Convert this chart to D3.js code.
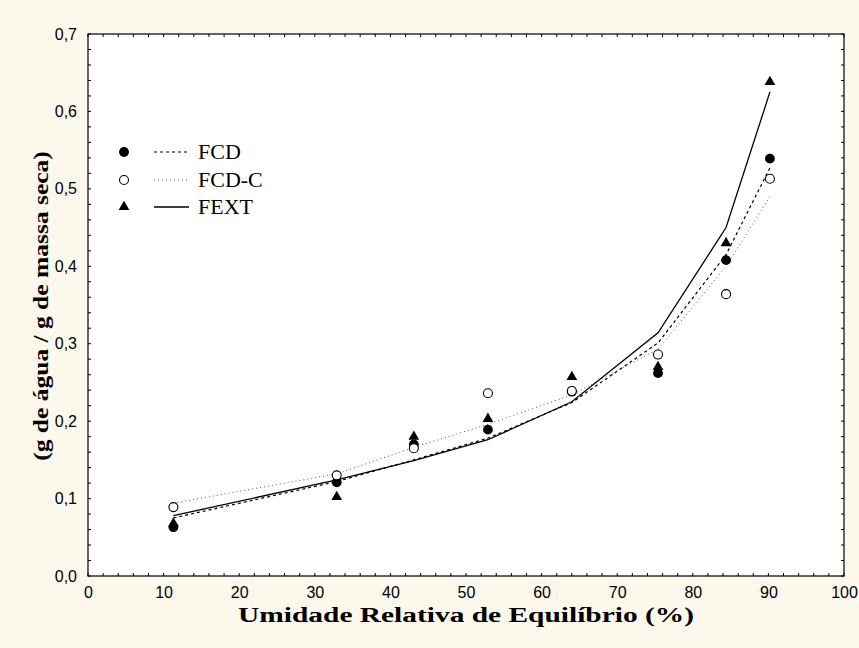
<!DOCTYPE html>
<html><head><meta charset="utf-8">
<script src="https://cdn.jsdelivr.net/npm/d3@7"></script>
<style>html,body{margin:0;padding:0;background:#FDF8EC;}</style>
</head><body>
<svg id="c" width="859" height="648"></svg>
<script>
const rh = [11.3, 32.9, 43.1, 52.9, 64.0, 75.4, 84.4, 90.2];
const fcdObs   = [0.063, 0.121, 0.170, 0.189, 0.238, 0.262, 0.408, 0.539];
const fcdcObs  = [0.089, 0.130, 0.165, 0.236, 0.239, 0.286, 0.364, 0.513];
const fextObs  = [0.068, 0.102, 0.180, 0.203, 0.257, 0.270, 0.430, 0.638];
const fcdFit   = [0.075, 0.122, 0.150, 0.178, 0.224, 0.301, 0.415, 0.527];
const fcdcFit  = [0.094, 0.132, 0.166, 0.196, 0.234, 0.293, 0.400, 0.490];
const fextFit  = [0.078, 0.124, 0.149, 0.176, 0.225, 0.314, 0.450, 0.625];
const xTicks = [0,10,20,30,40,50,60,70,80,90,100];
const yTicks = [0,0.1,0.2,0.3,0.4,0.5,0.6,0.7];
const seriesNames = ["FCD", "FCD-C", "FEXT"];

const svg = d3.select("#c");
const L = 88, R = 844, T = 34, B = 576;
const x = d3.scaleLinear().domain([0,100]).range([L,R]);
const y = d3.scaleLinear().domain([0,0.7]).range([B,T]);

svg.append("rect").attr("x",L).attr("y",T).attr("width",R-L).attr("height",B-T)
  .attr("fill","#fff").attr("stroke","#000").attr("stroke-width",1.2);

const fmt = d => d3.format(".1f")(d).replace(".", ",");
const xMinor = d3.range(0,101,2), yMinor = d3.range(0,0.7001,0.02);
const tk = svg.append("g").attr("stroke","#000").attr("stroke-width",1);
xMinor.forEach(v => {
  tk.append("line").attr("x1",x(v)).attr("x2",x(v)).attr("y1",B).attr("y2",B-3);
  tk.append("line").attr("x1",x(v)).attr("x2",x(v)).attr("y1",T).attr("y2",T+3);
});
yMinor.forEach(v => {
  tk.append("line").attr("y1",y(v)).attr("y2",y(v)).attr("x1",L).attr("x2",L+3);
  tk.append("line").attr("y1",y(v)).attr("y2",y(v)).attr("x1",R).attr("x2",R-3);
});

const xa = svg.append("g").attr("transform",`translate(0,${B})`)
  .call(d3.axisBottom(x).tickValues(xTicks).tickSize(0).tickPadding(11).tickFormat(d3.format("d")));
const ya = svg.append("g").attr("transform",`translate(${L},0)`)
  .call(d3.axisLeft(y).tickValues(yTicks).tickSize(0).tickPadding(11).tickFormat(fmt));
[xa,ya].forEach(a => { a.select(".domain").remove();
  a.attr("font-size",null).attr("font-family",null);
  a.selectAll("text").style("font-family","'Liberation Sans', Arial, sans-serif").style("font-size","16px").attr("fill","#000"); });

function stretched(g, txt, size, targetLen) {
  const t = g.append("text").attr("text-anchor","middle")
    .style("font-family","'Liberation Serif', 'Times New Roman', serif").style("font-weight","bold").style("font-size",size+"px")
    .text(txt);
  const w = t.node().getComputedTextLength();
  t.attr("transform",`scale(${targetLen / w},1)`);
  return t;
}
const xt = svg.append("g").attr("transform","translate(466,622)");
stretched(xt, "Umidade Relativa de Equilíbrio (%)", 22, 456);
const yt = svg.append("g").attr("transform",`translate(48,${(T+B)/2 + 1}) rotate(-90)`);
stretched(yt, "(g de água / g de massa seca)", 21, 310);

const line = d3.line().x((d,i)=>x(rh[i])).y(d=>y(d));
const fits = [
  {data: fcdFit, dash: "3,3", color: "#000", w: 1.2},
  {data: fcdcFit, dash: "1,3", color: "#555", w: 1},
  {data: fextFit, dash: null, color: "#000", w: 1.3}
];
fits.forEach(f => {
  svg.append("path").datum(f.data).attr("d", line).attr("fill","none")
    .attr("stroke", f.color).attr("stroke-width", f.w).attr("stroke-dasharray", f.dash);
});

const tri = d3.symbol().type(d3.symbolTriangle).size(50);
function marker(g, kind, cx, cy) {
  if (kind === 0) g.append("circle").attr("cx",cx).attr("cy",cy).attr("r",4.9).attr("fill","#000");
  else if (kind === 1) g.append("circle").attr("cx",cx).attr("cy",cy).attr("r",4.5).attr("fill","#fff").attr("stroke","#000").attr("stroke-width",1.1);
  else g.append("path").attr("d",tri).attr("transform",`translate(${cx},${cy})`).attr("fill","#000");
}
const obs = [fcdObs, fcdcObs, fextObs];
const mg = svg.append("g");
obs.forEach((arr,k) => arr.forEach((v,i) => marker(mg, k, x(rh[i]), y(v))));

const lg = svg.append("g");
const ly = [152, 180, 207];
seriesNames.forEach((n,k) => {
  marker(lg, k, 124, ly[k]);
  lg.append("line").attr("x1",154).attr("x2",189).attr("y1",ly[k]).attr("y2",ly[k])
    .attr("stroke",fits[k].color).attr("stroke-width",fits[k].w).attr("stroke-dasharray",fits[k].dash);
  lg.append("text").attr("x",198).attr("y",ly[k]+7)
    .style("font-family","'Liberation Serif', 'Times New Roman', serif").style("font-size","22px").text(n);
});
</script>
</body></html>
